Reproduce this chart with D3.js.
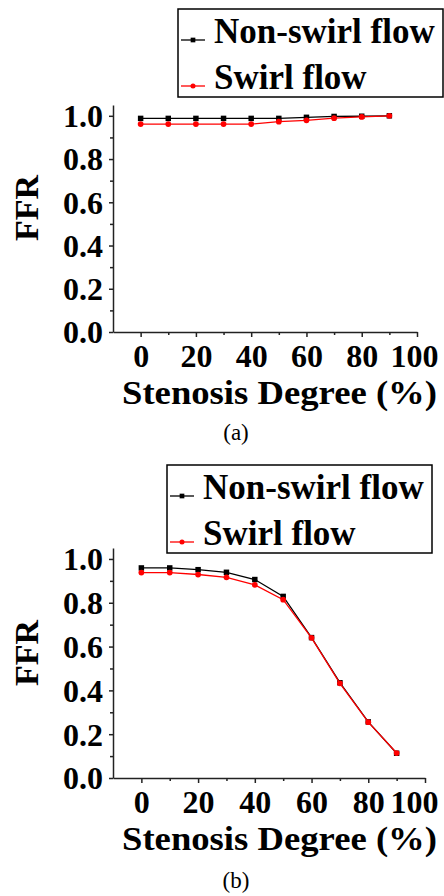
<!DOCTYPE html>
<html>
<head>
<meta charset="utf-8">
<script src="https://cdn.jsdelivr.net/npm/d3@7"></script>
<style>
  body { margin: 0; background: #fff; }
  text { font-family: "Liberation Serif", "Times New Roman", serif; }
</style>
</head>
<body>
<svg id="chart"></svg>
<script>
// data
const stenosis = [0, 10, 20, 30, 40, 50, 60, 70, 80, 90];
const nonSwirlA = [0.988, 0.988, 0.988, 0.988, 0.988, 0.988, 0.993, 0.997, 0.998, 1.0];
const swirlA = [0.962, 0.962, 0.962, 0.962, 0.962, 0.973, 0.979, 0.989, 0.995, 1.0];
const nonSwirlB = [0.959, 0.959, 0.951, 0.939, 0.906, 0.829, 0.641, 0.435, 0.256, 0.113];
const swirlB = [0.938, 0.938, 0.929, 0.916, 0.882, 0.814, 0.640, 0.432, 0.255, 0.114];
const xTicks = [0, 20, 40, 60, 80, 100];
const xMinor = [10, 30, 50, 70, 90];
const yTicks = [0.0, 0.2, 0.4, 0.6, 0.8, 1.0];
const yMinor = [0.1, 0.3, 0.5, 0.7, 0.9];
const seriesNames = ["Non-swirl flow", "Swirl flow"];
const seriesColors = ["#000000", "#ff0000"];

const width = 444, height = 896;
const svg = d3.select('svg#chart').attr('width', width).attr('height', height);

// panel layout
const panels = [
  { label: "(a)", series: [nonSwirlA, swirlA], left: 113, right: 417, bottom: 332, top: 105,
    legend: { x: 178, y: 9, w: 265, h: 88 }, ffrY: 208, labelY: 440 },
  { label: "(b)", series: [nonSwirlB, swirlB], left: 113, right: 425, bottom: 778, top: 548,
    legend: { x: 167, y: 465, w: 265, h: 88 }, ffrY: 653, labelY: 888 }
];
const labelRightLimit = 438; // the last x label sits inside the page

panels.forEach(p => {
  const g = svg.append('g');
  const x = d3.scaleLinear().domain([-10, 100]).range([p.left, p.right]);
  const y = d3.scaleLinear().domain([0, 1.05]).range([p.bottom, p.top]);

  // x axis
  const xAxisG = g.append('g')
    .attr('transform', 'translate(0,' + p.bottom + ')')
    .call(d3.axisBottom(x).tickValues(xTicks).tickSize(5).tickSizeOuter(0).tickFormat(d3.format('d')));
  xAxisG.selectAll('text')
    .attr('y', 35).attr('dy', 0)
    .style('font-size', '32px').style('font-weight', 'bold').attr('fill', '#000')
    .attr('dx', function() {
      const w = this.getComputedTextLength();
      const cx = x(d3.select(this.parentNode).datum());
      return Math.min(0, labelRightLimit - (cx + w / 2));
    });
  g.append('g')
    .attr('transform', 'translate(0,' + p.bottom + ')')
    .call(d3.axisBottom(x).tickValues(xMinor).tickSize(3).tickFormat(''))
    .select('.domain').remove();

  // y axis
  const yAxisG = g.append('g')
    .attr('transform', 'translate(' + p.left + ',0)')
    .call(d3.axisLeft(y).tickValues(yTicks).tickSize(4).tickSizeOuter(0).tickPadding(6).tickFormat(d3.format('.1f')));
  yAxisG.selectAll('text')
    .attr('dy', '0.34em')
    .style('font-size', '32px').style('font-weight', 'bold').attr('fill', '#000');
  g.append('g')
    .attr('transform', 'translate(' + p.left + ',0)')
    .call(d3.axisLeft(y).tickValues(yMinor).tickSize(3).tickFormat(''))
    .select('.domain').remove();

  g.selectAll('.domain, .tick line').attr('stroke', '#222').attr('stroke-width', 1.5);

  // axis titles
  g.append('text')
    .attr('x', 122).attr('y', p.bottom + 72)
    .attr('textLength', 315).attr('lengthAdjust', 'spacingAndGlyphs')
    .style('font-size', '34px').style('font-weight', 'bold')
    .text('Stenosis Degree (%)');
  g.append('text')
    .attr('transform', 'translate(38,' + p.ffrY + ') rotate(-90)')
    .attr('text-anchor', 'middle')
    .style('font-size', '34px').style('font-weight', 'bold')
    .text('FFR');

  // series
  const line = d3.line().x((d, i) => x(stenosis[i])).y(d => y(d));
  p.series.forEach((vals, k) => {
    g.append('path').datum(vals)
      .attr('fill', 'none').attr('stroke', seriesColors[k]).attr('stroke-width', 1.3)
      .attr('d', line);
    g.selectAll(null).data(vals).enter().append('path')
      .attr('transform', (d, i) => 'translate(' + x(stenosis[i]) + ',' + y(d) + ')')
      .attr('d', d3.symbol().type(k === 0 ? d3.symbolSquare : d3.symbolCircle).size(k === 0 ? 30 : 26))
      .attr('fill', seriesColors[k]);
  });

  // legend
  const L = p.legend;
  const lg = g.append('g').attr('transform', 'translate(' + L.x + ',' + L.y + ')');
  lg.append('rect').attr('width', L.w).attr('height', L.h)
    .attr('fill', 'none').attr('stroke', '#000').attr('stroke-width', 1.5);
  seriesNames.forEach((name, k) => {
    const cy = 31 + k * 46;
    lg.append('line').attr('x1', 3).attr('x2', 27).attr('y1', cy).attr('y2', cy)
      .attr('stroke', seriesColors[k]).attr('stroke-width', 1.3);
    lg.append('path')
      .attr('transform', 'translate(15,' + cy + ')')
      .attr('d', d3.symbol().type(k === 0 ? d3.symbolSquare : d3.symbolCircle).size(k === 0 ? 22 : 20))
      .attr('fill', seriesColors[k]);
    lg.append('text').attr('x', 36).attr('y', cy + 3)
      .style('font-size', '35px').style('font-weight', 'bold')
      .text(name);
  });

  // panel label
  g.append('text')
    .attr('x', 236).attr('y', p.labelY).attr('text-anchor', 'middle')
    .style('font-size', '23px')
    .text(p.label);
});
</script>
</body>
</html>
